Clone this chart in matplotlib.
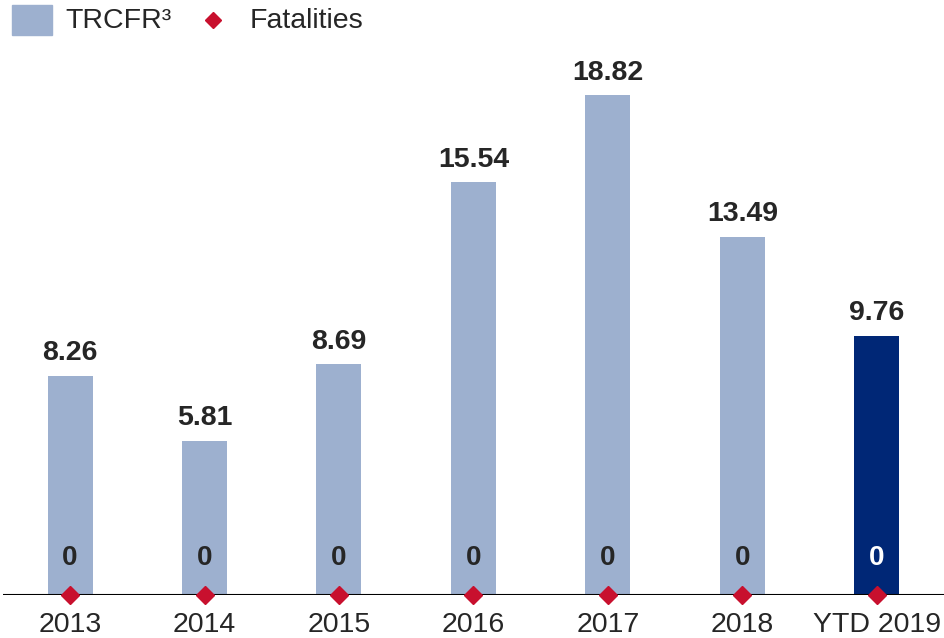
import matplotlib.pyplot as plt
from matplotlib.patches import Rectangle

plt.rcParams['font.family'] = ['Liberation Sans', 'DejaVu Sans']

years = ['2013', '2014', '2015', '2016', '2017', '2018', 'YTD 2019']
trcfr = [8.26, 5.81, 8.69, 15.54, 18.82, 13.49, 9.76]
fatalities = [0, 0, 0, 0, 0, 0, 0]

light_blue = '#9DB0CF'
navy = '#002776'
red = '#C8102E'
text_col = '#262626'

W, H = 944, 638
fig = plt.figure(figsize=(W / 100, H / 100), dpi=100)
ax = fig.add_axes([0.003, 0.0674, 0.997, 0.862])

x = list(range(len(years)))
colors = [light_blue] * (len(years) - 1) + [navy]
ax.bar(x, trcfr, width=0.335, color=colors, zorder=2)

for i, v in enumerate(trcfr):
    ax.text(i, v + 0.35, f'{v:.2f}', ha='center', va='bottom',
            fontsize=20.5, fontweight='bold', color=text_col)

# fatality counts sit near the bottom of each bar
for i, f in enumerate(fatalities):
    ax.text(i, 1.4, str(f), ha='center', va='center', fontsize=20,
            fontweight='bold', color='white' if i == len(years) - 1 else text_col,
            zorder=3)

ax.plot(x, fatalities, linestyle='none', marker='D', markersize=9.5,
        color=red, clip_on=False, zorder=4)

ax.set_xlim(-0.5, len(years) - 0.5)
ax.set_ylim(0, 20.7)
ax.axhline(0, color='black', linewidth=1.5, zorder=3)

for s in ['top', 'right', 'left', 'bottom']:
    ax.spines[s].set_visible(False)
ax.set_yticks([])
ax.set_xticks(x)
ax.set_xticklabels(years, fontsize=20.5, color=text_col)
ax.tick_params(axis='x', length=0, pad=12)

# legend drawn by hand along the top edge
fig.patches.append(Rectangle((12 / W, 1 - 35 / H), 40 / W, 30 / H,
                             transform=fig.transFigure, color=light_blue))
fig.text(65 / W, 1 - 21 / H, 'TRCFR³', fontsize=20.5, color=text_col,
         ha='left', va='center')
fig.lines.append(plt.Line2D([213 / W], [1 - 20 / H], transform=fig.transFigure,
                            linestyle='none', marker='D', markersize=8.5, color=red))
fig.text(250 / W, 1 - 21 / H, 'Fatalities', fontsize=20.5, color=text_col,
         ha='left', va='center')

fig.savefig('out.png', dpi=100)
